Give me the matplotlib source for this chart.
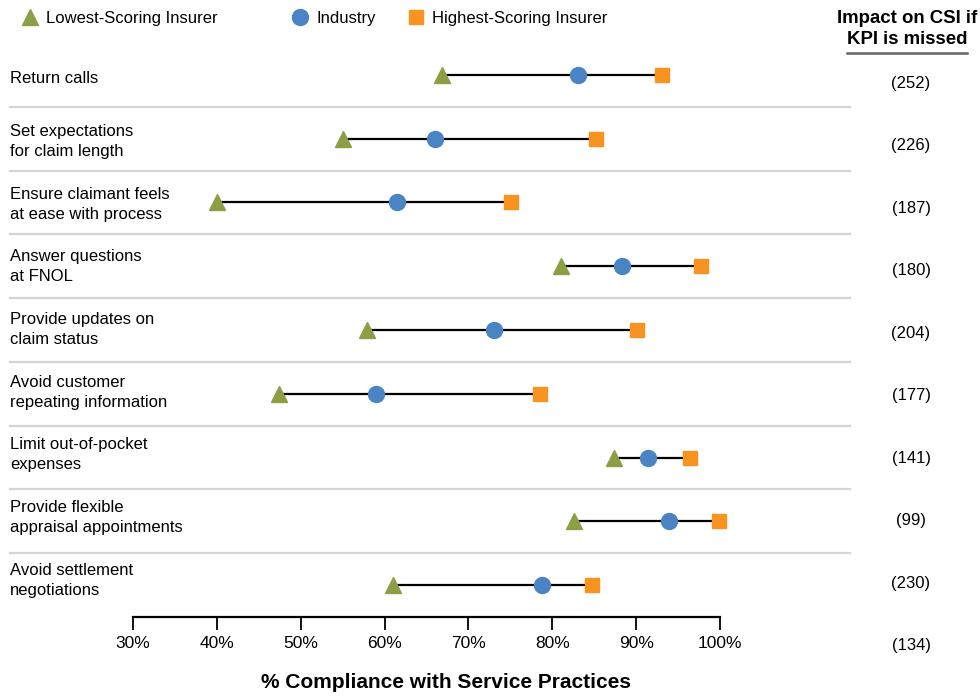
import matplotlib.pyplot as plt
from matplotlib.lines import Line2D
from matplotlib import transforms

plt.rcParams['font.family'] = ['Liberation Sans', 'DejaVu Sans']

practices = [
    "Return calls",
    "Set expectations\nfor claim length",
    "Ensure claimant feels\nat ease with process",
    "Answer questions\nat FNOL",
    "Provide updates on\nclaim status",
    "Avoid customer\nrepeating information",
    "Limit out-of-pocket\nexpenses",
    "Provide flexible\nappraisal appointments",
    "Avoid settlement\nnegotiations",
]
lowest = [66.8, 55.0, 40.0, 81.0, 57.9, 47.4, 87.4, 82.6, 61.0]
industry = [83.1, 66.0, 61.5, 88.3, 73.0, 59.0, 91.4, 93.9, 78.8]
highest = [93.1, 85.2, 75.1, 97.7, 90.1, 78.5, 96.4, 99.9, 84.7]
impact = [252, 226, 187, 180, 204, 177, 141, 99, 230, 134]
xticks = [30, 40, 50, 60, 70, 80, 90, 100]

c_low = "#8c9f45"
c_ind = "#4a84c4"
c_high = "#f7931e"

W, H = 980, 696
fig = plt.figure(figsize=(W / 100, H / 100), dpi=100)
ax = fig.add_axes([133 / W, 1 - 617 / H, (720 - 133) / W, (617 - 43) / H])
ax.set_xlim(30, 100)
ax.set_ylim(len(practices) - 0.5, -0.5)

rows = list(range(len(practices)))

# dumbbells
for i in rows:
    ax.plot([lowest[i], highest[i]], [i, i], color="black", lw=1.6, zorder=1)
ax.plot(lowest, rows, ls="none", marker="^", ms=12, color=c_low, zorder=3,
        clip_on=False)
ax.plot(industry, rows, ls="none", marker="o", ms=11.5, color=c_ind, zorder=3,
        clip_on=False)
ax.plot(highest, rows, ls="none", marker="s", ms=10, color=c_high, zorder=3,
        clip_on=False)

# row separators, spanning the label column too
blend = transforms.blended_transform_factory(fig.transFigure, ax.transData)
for i in rows[:-1]:
    ax.plot([10 / W, 850 / W], [i + 0.5, i + 0.5], transform=blend,
            color="#d4d4d4", lw=1.6, clip_on=False)

# row labels and impact column (text sits on a slightly tighter grid)
for i, name in enumerate(practices):
    ax.text(10 / W, 0.06 + i * 0.983, name, transform=blend, ha="left",
            va="center", fontsize=12, linespacing=1.42)
for i, v in enumerate(impact):
    ax.text(911 / W, 0.13 + i * 0.98, f"({v})",
            transform=blend, ha="center", va="center", fontsize=12)

for s in ["top", "left", "right"]:
    ax.spines[s].set_visible(False)
ax.spines["bottom"].set_linewidth(1.6)
ax.set_yticks([])
ax.set_xticks(xticks)
ax.set_xticklabels([f"{v}%" for v in xticks], fontsize=12.5)
ax.tick_params(axis="x", direction="out", length=9.5, width=1.3, pad=4)

fig.text(446 / W, 1 - 683 / H, "% Compliance with Service Practices",
         ha="center", va="center", fontsize=15, fontweight="bold")

# column header
fig.text(907 / W, 1 - 29 / H, "Impact on CSI if\nKPI is missed", ha="center",
         va="center", fontsize=13.4, fontweight="bold", linespacing=1.3)
fig.add_artist(Line2D([847 / W, 967 / W], [1 - 53 / H, 1 - 53 / H],
                      color="#666666", lw=1.8))

# legend
legend_items = [
    (30, "^", 12, c_low, "Lowest-Scoring Insurer"),
    (300, "o", 11.5, c_ind, "Industry"),
    (416, "s", 10, c_high, "Highest-Scoring Insurer"),
]
for x, m, ms, c, label in legend_items:
    fig.add_artist(Line2D([x / W], [1 - 17 / H], ls="none", marker=m, ms=ms,
                          color=c))
    fig.text((x + 16) / W, 1 - 18 / H, label, ha="left", va="center",
             fontsize=12)

fig.savefig("out.png", dpi=100)
